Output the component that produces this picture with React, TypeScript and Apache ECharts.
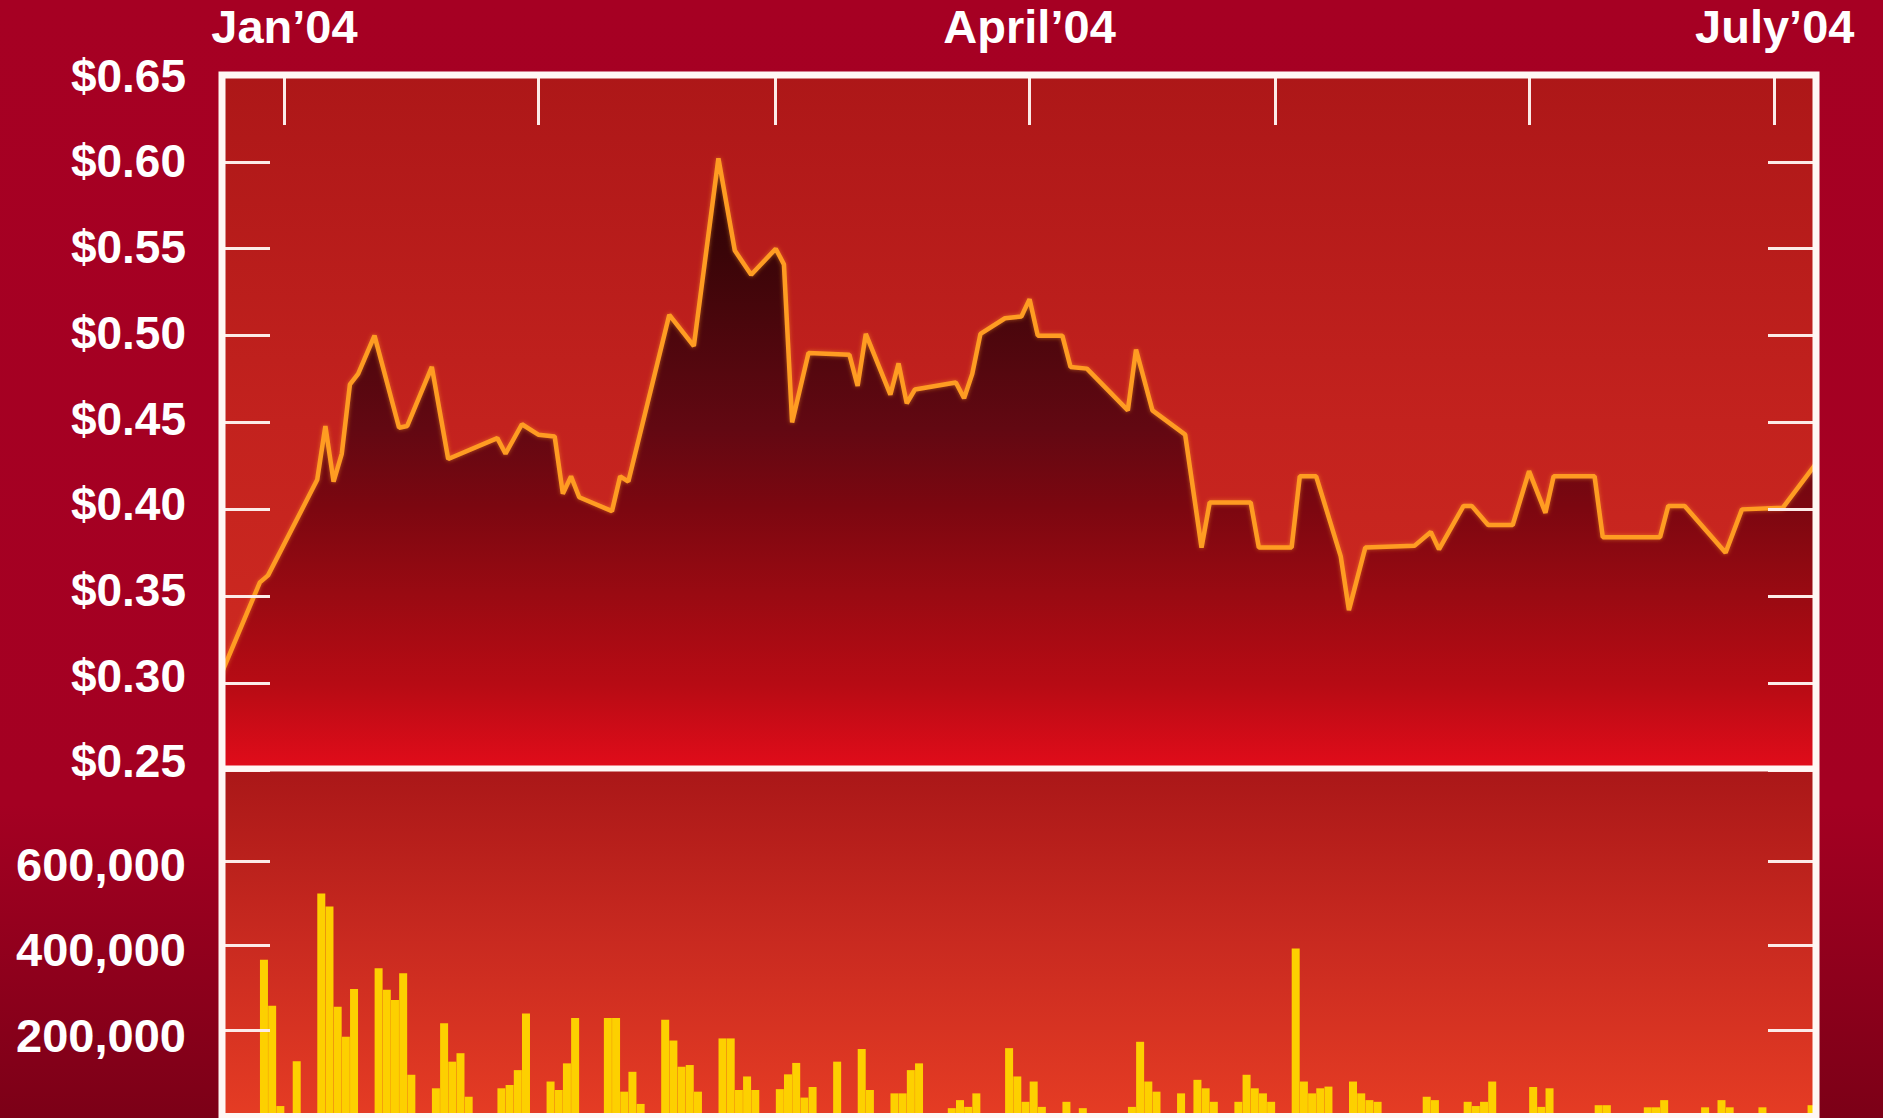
import React, { useEffect, useRef } from 'react';
import * as echarts from 'echarts';

// ---------- DATA ----------
const priceDates = [
  '2003-12-24', '2003-12-29', '2003-12-30', '2004-01-05', '2004-01-06', '2004-01-07', '2004-01-08',
  '2004-01-09', '2004-01-10', '2004-01-12', '2004-01-15', '2004-01-16', '2004-01-19', '2004-01-21',
  '2004-01-27', '2004-01-28', '2004-01-30', '2004-02-01', '2004-02-03', '2004-02-04', '2004-02-05',
  '2004-02-06', '2004-02-10', '2004-02-11', '2004-02-12', '2004-02-17', '2004-02-20', '2004-02-23',
  '2004-02-25', '2004-02-27', '2004-03-01', '2004-03-02', '2004-03-03', '2004-03-05', '2004-03-10',
  '2004-03-11', '2004-03-12', '2004-03-15', '2004-03-16', '2004-03-17', '2004-03-18', '2004-03-23',
  '2004-03-24', '2004-03-25', '2004-03-26', '2004-03-29', '2004-03-31', '2004-04-01', '2004-04-02',
  '2004-04-05', '2004-04-06', '2004-04-08', '2004-04-13', '2004-04-14', '2004-04-16', '2004-04-20',
  '2004-04-22', '2004-04-23', '2004-04-28', '2004-04-29', '2004-05-03', '2004-05-04', '2004-05-06',
  '2004-05-09', '2004-05-10', '2004-05-12', '2004-05-18', '2004-05-20', '2004-05-21', '2004-05-24',
  '2004-05-25', '2004-05-27', '2004-05-30', '2004-06-01', '2004-06-03', '2004-06-04', '2004-06-09',
  '2004-06-10', '2004-06-17', '2004-06-18', '2004-06-20', '2004-06-25', '2004-06-27', '2004-07-02',
  '2004-07-06',
];
const priceValues = [
  0.302, 0.358, 0.362, 0.417, 0.448, 0.416, 0.432,
  0.472, 0.478, 0.500, 0.447, 0.448, 0.482, 0.429,
  0.441, 0.432, 0.449, 0.443, 0.442, 0.409, 0.419,
  0.407, 0.399, 0.419, 0.416, 0.512, 0.494, 0.602,
  0.549, 0.535, 0.550, 0.541, 0.450, 0.490, 0.489,
  0.471, 0.501, 0.466, 0.484, 0.461, 0.469, 0.473,
  0.464, 0.478, 0.501, 0.510, 0.511, 0.521, 0.500,
  0.500, 0.482, 0.481, 0.457, 0.492, 0.457, 0.443,
  0.378, 0.404, 0.404, 0.378, 0.378, 0.419, 0.419,
  0.373, 0.342, 0.378, 0.379, 0.387, 0.377, 0.402,
  0.402, 0.391, 0.391, 0.422, 0.398, 0.419, 0.419,
  0.384, 0.384, 0.402, 0.402, 0.375, 0.400, 0.401,
  0.426,
];

const volumeDates = [
  '2003-12-29', '2003-12-30', '2003-12-31', '2004-01-02',
  '2004-01-05', '2004-01-06', '2004-01-07', '2004-01-08', '2004-01-09',
  '2004-01-12', '2004-01-13', '2004-01-14', '2004-01-15', '2004-01-16',
  '2004-01-19', '2004-01-20', '2004-01-21', '2004-01-22', '2004-01-23',
  '2004-01-27', '2004-01-28', '2004-01-29', '2004-01-30',
  '2004-02-02', '2004-02-03', '2004-02-04', '2004-02-05',
  '2004-02-09', '2004-02-10', '2004-02-11', '2004-02-12', '2004-02-13',
  '2004-02-16', '2004-02-17', '2004-02-18', '2004-02-19', '2004-02-20',
  '2004-02-23', '2004-02-24', '2004-02-25', '2004-02-26', '2004-02-27',
  '2004-03-01', '2004-03-02', '2004-03-03', '2004-03-04', '2004-03-05',
  '2004-03-08', '2004-03-11', '2004-03-12',
  '2004-03-15', '2004-03-16', '2004-03-17', '2004-03-18',
  '2004-03-22', '2004-03-23', '2004-03-24', '2004-03-25',
  '2004-03-29', '2004-03-30', '2004-03-31', '2004-04-01', '2004-04-02',
  '2004-04-05', '2004-04-07',
  '2004-04-13', '2004-04-14', '2004-04-15', '2004-04-16',
  '2004-04-19', '2004-04-21', '2004-04-22', '2004-04-23',
  '2004-04-26', '2004-04-27', '2004-04-28', '2004-04-29', '2004-04-30',
  '2004-05-03', '2004-05-04', '2004-05-05', '2004-05-06', '2004-05-07',
  '2004-05-10', '2004-05-11', '2004-05-12', '2004-05-13',
  '2004-05-19', '2004-05-20',
  '2004-05-24', '2004-05-25', '2004-05-26', '2004-05-27',
  '2004-06-01', '2004-06-02', '2004-06-03',
  '2004-06-09', '2004-06-10',
  '2004-06-15', '2004-06-16', '2004-06-17',
  '2004-06-22', '2004-06-24', '2004-06-25',
  '2004-06-29', '2004-07-05',
];
const volumeValues = [
  366000, 257000, 20000, 126000,
  523000, 492000, 255000, 184000, 297000,
  346000, 295000, 271000, 334000, 94000,
  62000, 216000, 125000, 145000, 42000,
  62000, 70000, 105000, 239000,
  78000, 58000, 121000, 228000,
  228000, 228000, 54000, 101000, 25000,
  224000, 175000, 113000, 117000, 54000,
  180000, 180000, 58000, 90000, 58000,
  60000, 95000, 122000, 40000, 65000,
  125000, 155000, 58000,
  50000, 50000, 105000, 121000,
  15000, 34000, 18000, 50000,
  157000, 90000, 30000, 78000, 18000,
  30000, 15000,
  18000, 172000, 78000, 54000,
  50000, 82000, 62000, 30000,
  30000, 94000, 62000, 50000, 30000,
  393000, 78000, 50000, 62000, 66000,
  78000, 50000, 34000, 30000,
  42000, 34000,
  30000, 20000, 30000, 78000,
  65000, 18000, 62000,
  22000, 22000,
  17000, 17000, 34000,
  17000, 34000, 17000,
  17000, 22000,
];

const priceMin = 0.25;
const priceMax = 0.65;
const priceStep = 0.05;
const priceLabelValues = [0.25, 0.3, 0.35, 0.4, 0.45, 0.5, 0.55, 0.6, 0.65];
const volumeMax = 815000;
const volumeTickValues = [200000, 400000, 600000];
const monthTickDates = ['2004-01-01', '2004-02-01', '2004-03-01', '2004-04-01', '2004-05-01', '2004-06-01', '2004-07-01'];
const monthLabelDates = ['2004-01-01', '2004-04-01', '2004-07-01'];
const monthLabels = ['Jan\u201904', 'April\u201904', 'July\u201904'];

// ---------- helpers ----------
const DAY = 86400000;
const ts = (s: string) => Date.parse(s + 'T00:00:00Z');
const X_MIN = Date.UTC(2003, 11, 24, 9);
const X_MAX = Date.UTC(2004, 6, 6, 1);

const W = 1883;
const H = 1118;
const PLOT_L = 222;
const PLOT_R = 1816;
const PRICE_T = 75;
const PRICE_B = 770;
const VOL_B = 1114.5;

const FONT = "'Liberation Sans', Arial, Helvetica, sans-serif";
const TICK = { color: '#fcebe8', width: 3 };
const FRAME = '#fff7f4';

export default function App() {
  const ref = useRef<HTMLDivElement>(null);

  useEffect(() => {
    if (!ref.current) return;
    const chart = echarts.init(ref.current, undefined, { renderer: 'svg', width: W, height: H });

    const priceData = priceDates.map((d, i) => [ts(d), priceValues[i]]);
    // each volume bar is centred on the middle of its trading day
    const volumeData = volumeDates.map((d, i) => [ts(d) + DAY / 2, volumeValues[i]]);
    const monthTicks = monthTickDates.map(ts);
    const labelTs = monthLabelDates.map(ts);

    const yLabel = {
      color: '#ffffff',
      fontFamily: FONT,
      fontWeight: 'bold' as const,
      fontSize: 46,
      margin: 36,
    };
    const noAxisParts = {
      axisLine: { show: false },
      splitLine: { show: false },
    };

    const option: any = {
      animation: false,
      backgroundColor: 'transparent',
      grid: [
        {
          left: PLOT_L, width: PLOT_R - PLOT_L, top: PRICE_T, height: PRICE_B - PRICE_T,
          show: true, borderWidth: 0,
          backgroundColor: {
            type: 'linear', x: 0, y: 0, x2: 0, y2: 1,
            colorStops: [
              { offset: 0, color: '#ad1718' },
              { offset: 0.5, color: '#c3221e' },
              { offset: 1, color: '#d22d22' },
            ],
          },
        },
        {
          left: PLOT_L, width: PLOT_R - PLOT_L, top: PRICE_B, height: VOL_B - PRICE_B,
          show: true, borderWidth: 0,
          backgroundColor: {
            type: 'linear', x: 0, y: 0, x2: 0, y2: 1,
            colorStops: [
              { offset: 0, color: '#aa1718' },
              { offset: 0.5, color: '#c92a20' },
              { offset: 1, color: '#e53c24' },
            ],
          },
        },
      ],
      xAxis: [
        {
          type: 'value', gridIndex: 0, position: 'top', min: X_MIN, max: X_MAX, z: 10,
          ...noAxisParts,
          axisTick: { show: true, inside: true, length: 50, lineStyle: TICK, customValues: monthTicks },
          axisLabel: {
            show: true, customValues: labelTs, color: '#ffffff', fontFamily: FONT,
            fontWeight: 'bold', fontSize: 47, margin: 25,
            formatter: (v: number) => {
              const i = labelTs.indexOf(v);
              return i >= 0 ? monthLabels[i] : '';
            },
          },
        },
        {
          type: 'value', gridIndex: 1, min: X_MIN, max: X_MAX, show: false,
          splitLine: { show: false },
        },
      ],
      yAxis: [
        {
          // price ticks (left)
          type: 'value', gridIndex: 0, position: 'left', min: priceMin, max: priceMax, interval: priceStep, z: 10,
          ...noAxisParts,
          axisTick: { show: true, inside: true, length: 48, lineStyle: TICK },
          axisLabel: { show: false },
        },
        {
          // price ticks (right)
          type: 'value', gridIndex: 0, position: 'right', min: priceMin, max: priceMax, interval: priceStep, z: 10,
          ...noAxisParts,
          axisTick: { show: true, inside: true, length: 48, lineStyle: TICK },
          axisLabel: { show: false },
        },
        {
          // volume ticks (left) — also the scale of the bars
          type: 'value', gridIndex: 1, position: 'left', min: 0, max: volumeMax, z: 10,
          ...noAxisParts,
          axisTick: { show: true, inside: true, length: 48, lineStyle: TICK, customValues: volumeTickValues },
          axisLabel: { show: false },
        },
        {
          // volume ticks (right)
          type: 'value', gridIndex: 1, position: 'right', min: 0, max: volumeMax, z: 10,
          ...noAxisParts,
          axisTick: { show: true, inside: true, length: 48, lineStyle: TICK, customValues: volumeTickValues },
          axisLabel: { show: false },
        },
        {
          // price labels, spaced as in the printed original (slightly tighter than the ticks)
          type: 'value', gridIndex: 0, position: 'left', min: 0.245, max: 0.6504, z: 10,
          ...noAxisParts,
          axisTick: { show: false },
          axisLabel: { ...yLabel, customValues: priceLabelValues, formatter: (v: number) => '$' + v.toFixed(2) },
        },
        {
          // volume labels, placed as in the printed original
          type: 'value', gridIndex: 1, position: 'left', min: 13400, max: 822100, z: 10,
          ...noAxisParts,
          axisTick: { show: false },
          axisLabel: {
            ...yLabel, fontSize: 47, customValues: volumeTickValues,
            formatter: (v: number) => v.toLocaleString('en-US'),
          },
        },
      ],
      series: [
        {
          type: 'line', xAxisIndex: 0, yAxisIndex: 0, data: priceData,
          symbol: 'none', z: 3,
          lineStyle: { color: '#ff9c22', width: 4.5, shadowColor: 'rgba(255,150,40,0.55)', shadowBlur: 4 },
          areaStyle: {
            opacity: 1,
            origin: 'start',
            color: {
              type: 'linear', x: 0, y: 160, x2: 0, y2: PRICE_B, global: true,
              colorStops: [
                { offset: 0, color: '#2a0306' },
                { offset: 0.15, color: '#3a0508' },
                { offset: 0.44, color: '#620812' },
                { offset: 0.57, color: '#7c0710' },
                { offset: 0.71, color: '#990a12' },
                { offset: 0.86, color: '#b70b14' },
                { offset: 1, color: '#e20c1a' },
              ],
            },
          },
        },
        {
          type: 'bar', xAxisIndex: 1, yAxisIndex: 2, data: volumeData,
          barWidth: 8, z: 3,
          itemStyle: { color: '#fdd000' },
        },
      ],
      graphic: [
        {
          type: 'rect', z: 100, silent: true,
          shape: { x: PLOT_L, y: PRICE_T, width: PLOT_R - PLOT_L, height: VOL_B + 2 - PRICE_T },
          style: { fill: 'none', stroke: FRAME, lineWidth: 7 },
        },
        {
          type: 'line', z: 100, silent: true,
          shape: { x1: PLOT_L, y1: PRICE_B - 1.5, x2: PLOT_R, y2: PRICE_B - 1.5 },
          style: { stroke: FRAME, lineWidth: 6 },
        },
      ],
    };

    chart.setOption(option);
    return () => chart.dispose();
  }, []);

  return (
    <div
      style={{
        position: 'fixed', left: 0, top: 0, width: W, height: H,
        background: 'linear-gradient(180deg, #a60023 0%, #a40022 72%, #7c0017 100%)',
      }}
    >
      <div ref={ref} style={{ width: W, height: H }} />
    </div>
  );
}
